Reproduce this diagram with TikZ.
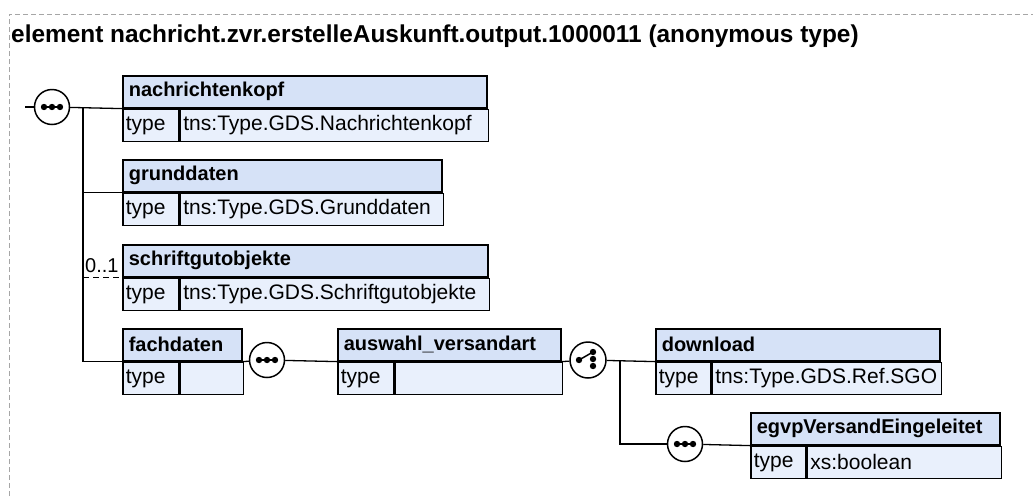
\documentclass[tikz,border=0pt]{standalone}
\usepackage{fontspec}
\setmainfont{Liberation Sans}
\usetikzlibrary{positioning}
\definecolor{headblue}{RGB}{214,226,247}
\definecolor{rowblue}{RGB}{233,240,252}
\begin{document}
\begin{tikzpicture}[x=1pt,y=-1pt,
      elhead/.style={
        % The shape:
        rectangle,anchor=north west,minimum height=32pt,inner xsep=6pt,inner ysep=0pt,
        % The rest
        draw,line width=1.6pt,fill=headblue,align=left,
        font=\fontsize{20}{24}\selectfont\bfseries},
      typecell/.style={
        rectangle,anchor=north west,minimum height=32pt,inner xsep=3pt,inner ysep=0pt,
        text width=50pt,draw,line width=1.6pt,fill=rowblue,align=left,
        font=\fontsize{21}{24}\selectfont},
      valcell/.style={typecell,text width=#1},
      seqnode/.style={
        circle,minimum size=35pt,inner sep=0pt,draw,line width=1.5pt,fill=white,
        path picture={
          \draw[line width=1.5pt,black] ([xshift=-8pt]path picture bounding box.center) -- ([xshift=8pt]path picture bounding box.center);
          \foreach \dx in {-8,0,8}
            \fill[black] ([xshift=\dx pt]path picture bounding box.center) circle (3.2pt);}},
      choicenode/.style={
        circle,minimum size=36pt,inner sep=0pt,draw,line width=1.5pt,fill=white,
        path picture={
          \draw[line width=1.5pt,black] ([xshift=-9pt]path picture bounding box.center) -- ([xshift=5pt,yshift=8pt]path picture bounding box.center);
          \fill[black] ([xshift=-9pt]path picture bounding box.center) circle (3.2pt);
          \foreach \dy in {8,1,-6}
            \fill[black] ([xshift=5pt,yshift=\dy pt]path picture bounding box.center) circle (3.2pt);}},
      conn/.style={line width=1.3pt}]
    \useasboundingbox (0,0) rectangle (1033,496);
    \draw[gray!70,line width=0.9pt,dash pattern=on 5pt off 3pt] (9,496) -- (9,14) -- (1033,14);
    \node(title)[anchor=base west,inner sep=0pt,font=\fontsize{24.4}{28}\selectfont\bfseries] at (11,42)
      {element nachricht.zvr.erstelleAuskunft.output.1000011 (anonymous type)};

    % top sequence
    \node(seq1)[seqnode] at (52,107) {};
    \coordinate(in) at (25,107);
    \coordinate(trunk) at (83,107);

    \node(nk)[elhead,text width=352pt] at (122,75) {nachrichtenkopf};
    \node(nkt)[typecell,at=(nk.south west)] {type};
    \node(nkv)[valcell=302pt,at=(nkt.north east)] {tns:Type.GDS.Nachrichtenkopf};

    \node(gd)[elhead,text width=307pt] at (122,159) {grunddaten};
    \node(gdt)[typecell,at=(gd.south west)] {type};
    \node(gdv)[valcell=257pt,at=(gdt.north east)] {tns:Type.GDS.Grunddaten};

    \node(so)[elhead,text width=353pt] at (122,244) {schriftgutobjekte};
    \node(sot)[typecell,at=(so.south west)] {type};
    \node(sov)[valcell=303pt,at=(sot.north east)] {tns:Type.GDS.Schriftgutobjekte};

    \node(fd)[elhead,text width=107pt] at (122,328) {fachdaten};
    \node(fdt)[typecell,at=(fd.south west)] {type};
    \node(fdv)[valcell=57pt,at=(fdt.north east)] {};

    \path (in) edge[conn] (seq1);
    \path (seq1) edge[conn] (nk.south west);
    \draw[conn] (trunk) |- (fd.south west);
    \draw[conn] (trunk |- gd.south west) -- (gd.south west);
    \draw[conn,dash pattern=on 6pt off 4pt] (trunk |- so.south west) -- (so.south west);
    \node(occ)[anchor=south west,inner sep=0pt,font=\fontsize{20}{24}\selectfont] at (85,273) {0..1};

    % fachdaten content
    \node(seq2)[seqnode] at (267,360) {};
    \node(av)[elhead,text width=211pt] at (337,328) {auswahl\_versandart};
    \node(avt)[typecell,at=(av.south west)] {type};
    \node(avv)[valcell=161pt,at=(avt.north east)] {};
    \path (fd.south east) edge[conn] (seq2);
    \path (seq2) edge[conn] (av.south west);

    % choice
    \node(ch)[choicenode] at (588,360) {};
    \coordinate(branch) at (620,360);
    \node(dl)[elhead,text width=272pt] at (655,328) {download};
    \node(dlt)[typecell,text width=49pt,at=(dl.south west)] {type};
    \node(dlv)[valcell=223pt,at=(dlt.north east)] {tns:Type.GDS.Ref.SGO};
    \path (av.south east) edge[conn] (ch);
    \path (ch) edge[conn] (dl.south west);

    \node(seq3)[seqnode] at (685,444) {};
    \node(eg)[elhead,text width=237pt] at (750,412) {egvpVersandEingeleitet};
    \node(egt)[typecell,text width=49pt,at=(eg.south west)] {type};
    \node(egv)[valcell=188pt,at=(egt.north east)] {xs:boolean};
    \draw[conn] (branch) |- (seq3);
    \path (seq3) edge[conn] (eg.south west);

  \end{tikzpicture}
\end{document}
